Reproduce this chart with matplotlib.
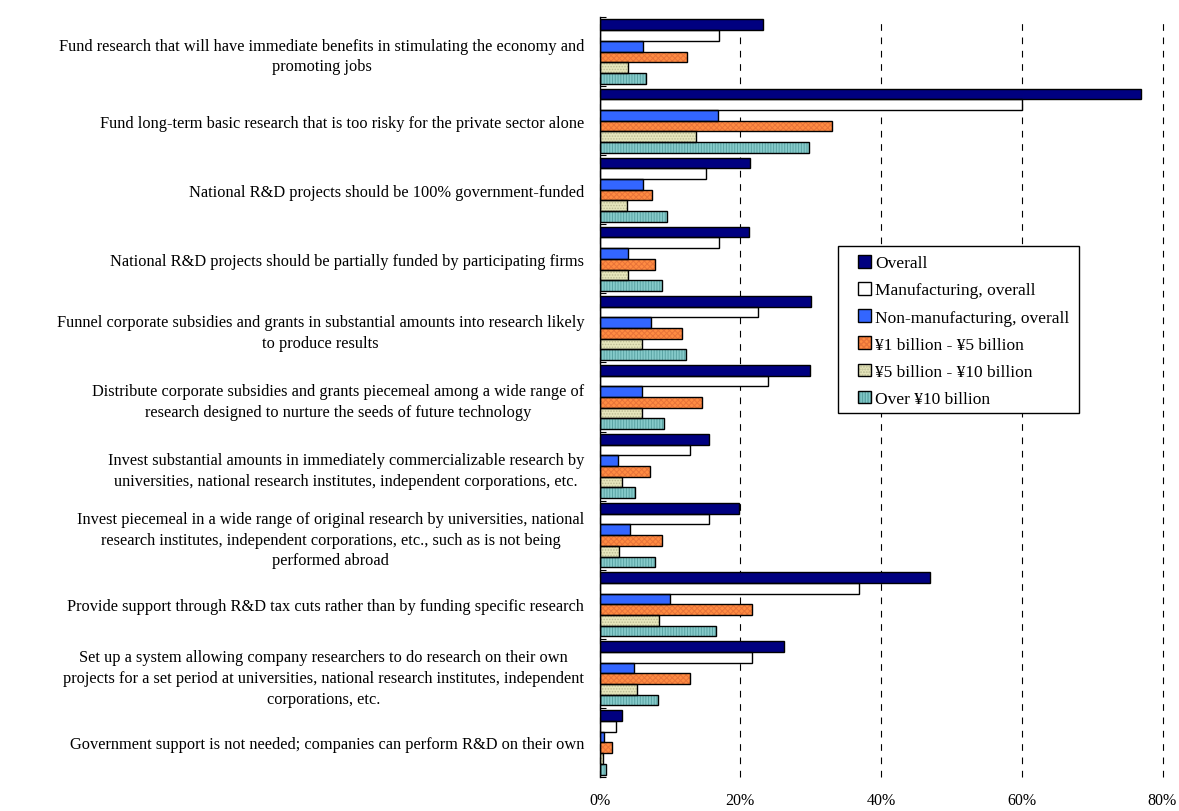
import numpy as np
import matplotlib
matplotlib.use('Agg')
import matplotlib.pyplot as plt
from matplotlib.patches import Patch, Rectangle

plt.rcParams['font.family'] = ['Liberation Serif', 'DejaVu Serif']

measures = [
    'Fund research that will have immediate benefits in stimulating the economy and\npromoting jobs',
    'Fund long-term basic research that is too risky for the private sector alone',
    'National R&D projects should be 100% government-funded',
    'National R&D projects should be partially funded by participating firms',
    'Funnel corporate subsidies and grants in substantial amounts into research likely\nto produce results',
    'Distribute corporate subsidies and grants piecemeal among a wide range of\nresearch designed to nurture the seeds of future technology',
    'Invest substantial amounts in immediately commercializable research by\nuniversities, national research institutes, independent corporations, etc.',
    'Invest piecemeal in a wide range of original research by universities, national\nresearch institutes, independent corporations, etc., such as is not being\nperformed abroad',
    'Provide support through R&D tax cuts rather than by funding specific research',
    'Set up a system allowing company researchers to do research on their own\nprojects for a set period at universities, national research institutes, independent\ncorporations, etc.',
    'Government support is not needed; companies can perform R&D on their own',
]

series_names = ['Overall', 'Manufacturing, overall', 'Non-manufacturing, overall',
                '¥1 billion - ¥5 billion', '¥5 billion - ¥10 billion', 'Over ¥10 billion']

overall = [23.3, 77.0, 21.4, 21.2, 30.1, 29.9, 15.5, 19.8, 46.9, 26.2, 3.2]
manufacturing = [17.0, 60.0, 15.1, 17.0, 22.5, 24.0, 12.8, 15.5, 36.9, 21.6, 2.4]
non_manufacturing = [6.2, 16.8, 6.2, 4.1, 7.3, 6.0, 2.6, 4.4, 10.0, 4.9, 0.7]
cap_1_5 = [12.5, 33.1, 7.5, 7.9, 11.7, 14.6, 7.2, 8.9, 21.6, 12.8, 1.8]
cap_5_10 = [4.1, 13.7, 3.9, 4.1, 6.0, 6.0, 3.2, 2.8, 8.4, 5.3, 0.5]
cap_over_10 = [6.6, 29.8, 9.6, 8.9, 12.3, 9.2, 5.1, 7.9, 16.6, 8.3, 0.9]

values = [overall, manufacturing, non_manufacturing, cap_1_5, cap_5_10, cap_over_10]
fills = ['#000080', '#ffffff', '#3366ff', '#ff8c42', '#e6e6bc', '#86caca']
hatches = [None, None, None, 'xxxxxx', '......', '||||||']
hatch_colors = ['none', 'none', 'none', '#e8743a', '#bcbc94', '#5aa4a4']

fig = plt.figure(figsize=(11.79, 8.12), dpi=100)
ax = fig.add_axes([599.5 / 1179, 1 - 778 / 812, 563 / 1179, 760 / 812])

n = len(measures)
y = np.arange(n)
h = 0.928 / 6
handles = []
for k, (vals, fc, ht, hc) in enumerate(zip(values, fills, hatches, hatch_colors)):
    pos = y - 0.464 + h * (k + 0.5)
    # fill + hatch first, black outline drawn on top
    with plt.rc_context({'hatch.color': hc, 'hatch.linewidth': 0.7}):
        ax.barh(pos, vals, height=h, color=fc, hatch=ht, linewidth=0, zorder=2)
        face = Patch(facecolor=fc, hatch=ht, linewidth=0)
    ax.barh(pos, vals, height=h, fill=False, edgecolor='black', linewidth=1.0, zorder=3)
    edge = Patch(fill=False, edgecolor='black', linewidth=1.0)
    handles.append((face, edge))

ax.set_xlim(0, 80)
ax.set_ylim(n - 0.5, -0.5)
ax.set_xticks([0, 20, 40, 60, 80])
ax.set_xticklabels(['0%', '20%', '40%', '60%', '80%'], fontsize=11.5)
ax.tick_params(axis='x', length=0, pad=11)
ax.set_yticks(y)
ax.set_yticklabels(measures, fontsize=11.8, multialignment='center', linespacing=1.4)
ax.tick_params(axis='y', length=0, pad=11)
ax.set_yticks(np.arange(n + 1) - 0.5, minor=True)
ax.tick_params(axis='y', which='minor', direction='in', length=4, width=0.8)
ax.xaxis.grid(True, color='black', linestyle=(0, (6, 6)), linewidth=0.8, zorder=0)
for gl in ax.get_xgridlines():
    gl.set_clip_on(False)
ax.set_axisbelow(True)
for s in ['top', 'right', 'bottom']:
    ax.spines[s].set_visible(False)
ax.spines['left'].set_linewidth(1.0)

# legend box drawn separately so the left padding can be wider than the top
box = Rectangle((0.4236, 0.4789), 0.4281, 0.2198, transform=ax.transAxes,
                facecolor='white', edgecolor='black', linewidth=1.0, zorder=5)
ax.add_patch(box)
leg = ax.legend(handles, series_names, loc='upper left', bbox_to_anchor=(0.4592, 0.687),
                fontsize=12.5, frameon=False,
                handlelength=0.75, handleheight=0.75, handletextpad=0.25,
                labelspacing=0.62, borderpad=0, borderaxespad=0)
leg.set_zorder(6)

fig.savefig('out.png', dpi=100)
